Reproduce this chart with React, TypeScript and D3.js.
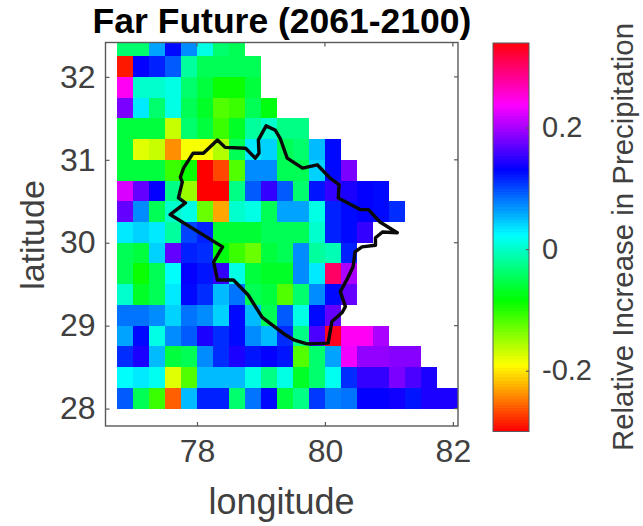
import { useEffect, useRef } from "react";
import * as d3 from "d3";

// grid values, north to south, starting at 76.75E; rows end where the data ends
const row17 = [-0.04, -0.04, 0.06, 0.125, 0.07, 0.01, -0.04, -0.05];
const row16 = [-0.29, 0.13, 0.115, 0.09, -0.02, -0.05, -0.05, -0.05, -0.05];
const row15 = [0.24, 0.0, 0.0, 0.01, -0.04, -0.06, -0.09, -0.09, -0.06];
const row14 = [0.18, 0.03, -0.04, 0.01, -0.05, -0.07, -0.12, -0.11, -0.05, -0.08];
const row13 = [-0.06, -0.06, -0.06, -0.17, -0.04, -0.06, -0.11, -0.07, -0.02, 0.0, -0.03, -0.03];
const row12 = [-0.06, -0.18, -0.17, -0.24, -0.19, -0.19, -0.16, -0.05, 0.03, 0.04, -0.05, -0.04, 0.05, 0.125];
const row11 = [-0.06, -0.06, -0.06, -0.11, -0.09, -0.3, -0.27, -0.12, 0.07, 0.07, -0.05, -0.05, 0.04, 0.125, 0.18];
const row10 = [0.22, 0.17, 0.13, -0.03, -0.15, -0.3, -0.3, -0.03, 0.09, 0.15, 0.09, -0.04, 0.12, 0.15, 0.14, 0.13, 0.125];
const row9 = [0.17, 0.07, -0.05, 0.0, 0.01, -0.13, -0.23, 0.0, 0.01, -0.05, 0.06, 0.06, 0.01, 0.115, 0.125, 0.13, 0.125, 0.11];
const row8 = [0.03, 0.04, 0.03, -0.02, 0.1, 0.115, -0.065, -0.065, -0.065, -0.05, -0.05, -0.05, 0.0, 0.115, 0.125, 0.15];
const row7 = [-0.05, -0.06, 0.04, 0.17, 0.115, 0.11, -0.08, -0.11, -0.13, -0.06, -0.05, 0.07, -0.02, -0.01, 0.115];
const row6 = [-0.05, -0.09, -0.05, 0.02, 0.13, 0.12, 0.15, 0.01, -0.06, -0.07, -0.07, 0.07, 0.03, 0.3, 0.2];
const row5 = [0.0, -0.07, -0.05, 0.03, 0.125, 0.11, 0.05, 0.08, -0.05, -0.06, -0.12, -0.04, 0.07, 0.125, 0.17];
const row4 = [0.08, 0.08, 0.07, 0.04, 0.08, 0.07, 0.04, 0.125, 0.05, -0.05, 0.09, 0.01, 0.125, 0.17];
const row3 = [0.06, 0.125, 0.01, 0.07, 0.09, 0.14, 0.11, 0.125, 0.07, 0.05, 0.11, -0.03, 0.16, 0.33, 0.24, 0.24, 0.2];
const row2 = [0.11, 0.14, 0.05, -0.06, -0.05, 0.07, 0.11, 0.14, 0.12, 0.13, 0.12, -0.12, -0.04, 0.06, 0.23, 0.19, 0.19, 0.185, 0.185];
const row1 = [0.02, 0.03, 0.015, -0.18, -0.12, 0.05, 0.05, 0.05, 0.01, -0.03, 0.01, -0.07, -0.04, 0.015, 0.11, 0.15, 0.15, 0.18, 0.16, 0.14];
const row0 = [0.09, -0.05, -0.11, -0.26, 0.05, 0.115, 0.115, -0.04, 0.08, 0.125, -0.06, -0.03, 0.105, 0.075, 0.08, 0.13, 0.13, 0.135, 0.12, 0.14, 0.14, 0.14];
const rows = [row17, row16, row15, row14, row13, row12, row11, row10, row9, row8, row7, row6, row5, row4, row3, row2, row1, row0];

// basin outline
const outlineLon = [77.79, 77.94, 78.1, 78.32, 78.44, 78.76, 78.91, 78.97, 78.96, 79.08, 79.22, 79.3, 79.41, 79.65, 79.88, 80.08, 80.22, 80.21, 80.55, 80.68, 80.86, 81.13, 80.9, 80.79, 80.79, 80.58, 80.47, 80.44, 80.36, 80.24, 80.32, 80.27, 80.11, 80.05, 79.72, 79.51, 79.38, 79.02, 78.8, 78.57, 78.32, 78.26, 78.4, 77.58, 77.82, 77.71, 77.77, 77.74, 77.79];
const outlineLat = [30.9, 31.08, 31.08, 31.24, 31.15, 31.14, 31.02, 31.08, 31.24, 31.41, 31.36, 31.26, 31.02, 30.9, 30.94, 30.78, 30.7, 30.54, 30.4, 30.4, 30.25, 30.12, 30.13, 30.06, 29.97, 29.95, 29.89, 29.71, 29.58, 29.41, 29.23, 29.16, 29.05, 28.79, 28.78, 28.83, 28.89, 29.1, 29.37, 29.55, 29.55, 29.77, 29.95, 30.34, 30.48, 30.54, 30.73, 30.79, 30.9];

const lonTicks = [78, 80, 82];
const latTicks = [28, 29, 30, 31, 32];
const colorTicks = [-0.2, 0, 0.2];
const cellSize = 0.25;
const firstLon = 76.75;
const topLat = 32.5;

const font = "'Liberation Sans', Arial, sans-serif";
const ink = "#404040";
const axisInk = "#595959";

export default function App() {
  const svgRef = useRef<SVGSVGElement>(null);

  useEffect(() => {
    const svg = d3.select(svgRef.current);
    svg.selectAll("*").remove();

    const plot = { left: 105.5, right: 458, top: 42.5, bottom: 426 };
    const bar = { left: 493, right: 529, top: 43, bottom: 431.5 };

    const x = d3.scaleLinear().domain([76.57, 82.08]).range([plot.left, plot.right]);
    const y = d3.scaleLinear().domain([27.79, 32.415]).range([plot.bottom, plot.top]);

    // matlab hsv map, red at both ends
    const color = d3
      .scaleSequential((t: number) => d3.hsl(t * 358, 1, 0.5).formatHex())
      .domain([-0.3, 0.339]);

    svg
      .append("clipPath")
      .attr("id", "plot-clip")
      .append("rect")
      .attr("x", plot.left)
      .attr("y", plot.top)
      .attr("width", plot.right - plot.left)
      .attr("height", plot.bottom - plot.top);

    const cells = svg.append("g").attr("clip-path", "url(#plot-clip)").attr("shape-rendering", "crispEdges");
    rows.forEach((row, i) => {
      const lat = topLat - i * cellSize;
      row.forEach((v, j) => {
        const lon = firstLon + j * cellSize;
        cells
          .append("rect")
          .attr("x", x(lon))
          .attr("y", y(lat))
          .attr("width", x(lon + cellSize) - x(lon))
          .attr("height", y(lat - cellSize) - y(lat))
          .attr("fill", color(v));
      });
    });

    const line = d3
      .line<number>()
      .x((d) => x(d))
      .y((_, i) => y(outlineLat[i]));

    svg
      .append("path")
      .attr("d", line(outlineLon))
      .attr("fill", "none")
      .attr("stroke", "#0a0a0a")
      .attr("stroke-width", 3.4)
      .attr("stroke-linejoin", "round");

    // box and inward ticks
    svg
      .append("rect")
      .attr("x", plot.left)
      .attr("y", plot.top)
      .attr("width", plot.right - plot.left)
      .attr("height", plot.bottom - plot.top)
      .attr("fill", "none")
      .attr("stroke", axisInk)
      .attr("stroke-width", 1.4);

    const styleAxis = (g: any, size: number) => {
      g.select(".domain").remove();
      g.selectAll("line").attr("stroke", axisInk).attr("stroke-width", 1.2);
      g.selectAll("text").attr("font-family", font).attr("font-size", size).attr("fill", ink);
    };

    svg
      .append("g")
      .attr("transform", `translate(0,${plot.bottom})`)
      .call(d3.axisBottom(x).tickValues(lonTicks).tickFormat(d3.format("d")).tickSizeInner(-4).tickSizeOuter(0).tickPadding(13))
      .call(styleAxis, 32);
    svg
      .append("g")
      .attr("transform", `translate(${plot.left},0)`)
      .call(d3.axisLeft(y).tickValues(latTicks).tickFormat(d3.format("d")).tickSizeInner(-4).tickSizeOuter(0).tickPadding(10))
      .call(styleAxis, 32);

    const topTicks = svg.append("g").attr("stroke", axisInk).attr("stroke-width", 1.2);
    lonTicks.forEach((t) => {
      topTicks.append("line").attr("x1", x(t)).attr("x2", x(t)).attr("y1", plot.top).attr("y2", plot.top + 4);
    });
    latTicks.forEach((t) => {
      topTicks.append("line").attr("x1", plot.right).attr("x2", plot.right - 4).attr("y1", y(t)).attr("y2", y(t));
    });

    // colorbar
    const barY = d3.scaleLinear().domain(color.domain()).range([bar.bottom, bar.top]);
    const levels = d3.range(0, 128).map((i) => -0.3 + (i / 128) * 0.639);
    const step = (bar.bottom - bar.top) / 128;
    svg
      .append("g")
      .attr("shape-rendering", "crispEdges")
      .selectAll("rect")
      .data(levels)
      .enter()
      .append("rect")
      .attr("x", bar.left)
      .attr("width", bar.right - bar.left)
      .attr("y", (d) => barY(d) - step)
      .attr("height", step + 0.6)
      .attr("fill", (d) => color(d));
    svg
      .append("rect")
      .attr("x", bar.left)
      .attr("y", bar.top)
      .attr("width", bar.right - bar.left)
      .attr("height", bar.bottom - bar.top)
      .attr("fill", "none")
      .attr("stroke", axisInk)
      .attr("stroke-width", 1);
    svg
      .append("g")
      .attr("transform", `translate(${bar.right},0)`)
      .call(d3.axisRight(barY).tickValues(colorTicks).tickFormat((d: any) => String(d)).tickSizeInner(-3).tickSizeOuter(0).tickPadding(13))
      .call(styleAxis, 29);

    // titles
    const label = (text: string, tx: number, ty: number, size: number, rotate = 0, weight = "normal") =>
      svg
        .append("text")
        .attr("transform", `translate(${tx},${ty}) rotate(${rotate})`)
        .attr("text-anchor", "middle")
        .attr("font-family", font)
        .attr("font-size", size)
        .attr("font-weight", weight)
        .attr("fill", weight === "bold" ? "#000" : ink)
        .text(text);

    label("Far Future (2061-2100)", 282, 33, 35.5, 0, "bold");
    label("longitude", 281.5, 514, 36);
    label("latitude", 43.5, 235, 34, -90);
    label("Relative Increase in Precipitation", 633, 237, 29.4, -90);
  }, []);

  return <svg ref={svgRef} width={643} height={526} style={{ position: "absolute", left: 0, top: 0, background: "#fff" }} />;
}
